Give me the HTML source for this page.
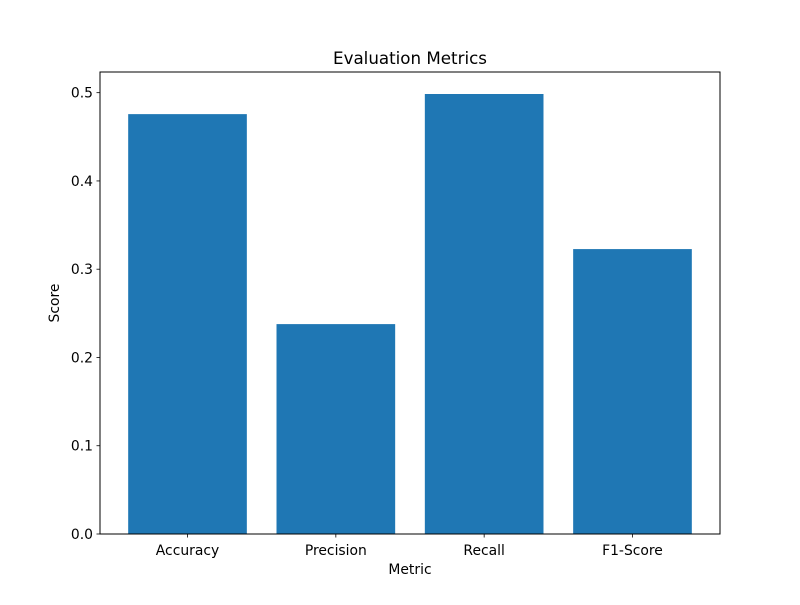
<!DOCTYPE html>
<html><head><meta charset="utf-8"><style>
body{margin:0;background:#fff;}
svg text{font-family:"DejaVu Sans","Liberation Sans",sans-serif;fill:#000;}
</style></head><body>
<svg id="chart" width="800" height="600" xmlns="http://www.w3.org/2000/svg">
<rect width="800" height="600" fill="#fff"/>
<text x="410" y="64" font-size="16.7" text-anchor="middle">Evaluation Metrics</text>
<text x="410" y="574" font-size="13.9" text-anchor="middle">Metric</text>
<text transform="translate(59,303) rotate(-90)" font-size="13.9" text-anchor="middle">Score</text>
<g id="bars"></g><g id="ticks"></g>
<rect x="100" y="72" width="620" height="462" fill="none" stroke="#000" stroke-width="1"/>
</svg>
<script>
const categories = ["Accuracy","Precision","Recall","F1-Score"];
const scores = [0.4757, 0.2378, 0.4985, 0.3228];
const yTicks = [0.0, 0.1, 0.2, 0.3, 0.4, 0.5];
const yTickLabels = ["0.0","0.1","0.2","0.3","0.4","0.5"];

const NS="http://www.w3.org/2000/svg";
const L=100,R=720,T=72,B=534;
const xmin=-0.59, xmax=categories.length-1+0.59;
const ymax=Math.max(...scores)*1.05;
const xs=v=>L+(v-xmin)/(xmax-xmin)*(R-L);
const ys=v=>B-v/ymax*(B-T);
const bars=document.getElementById('bars'), ticks=document.getElementById('ticks');
function mk(tag,attrs,parent){const e=document.createElementNS(NS,tag);for(const k in attrs)e.setAttribute(k,attrs[k]);parent.appendChild(e);return e;}
categories.forEach((c,i)=>{
  const x0=xs(i-0.4), x1=xs(i+0.4);
  const b=mk('rect',{x:x0,y:ys(scores[i]),width:x1-x0,height:B-ys(scores[i]),fill:'#1f77b4'},bars);
  
  
  const tk=mk('line',{x1:xs(i),x2:xs(i),y1:B,y2:B+3.5,stroke:'#000','stroke-width':0.8},ticks);
  
  
  const t=mk('text',{x:xs(i),y:B+21,'font-size':13.9,'text-anchor':'middle'},ticks);
  t.textContent=c;
  
  
});
yTicks.forEach((v,i)=>{
  const tk=mk('line',{x1:L-3.5,x2:L,y1:ys(v),y2:ys(v),stroke:'#000','stroke-width':0.8},ticks);
  
  
  const t=mk('text',{x:L-7,y:ys(v)+5,'font-size':13.9,'text-anchor':'end'},ticks);
  t.textContent=yTickLabels[i];
  
  
});
</script>
</body></html>
